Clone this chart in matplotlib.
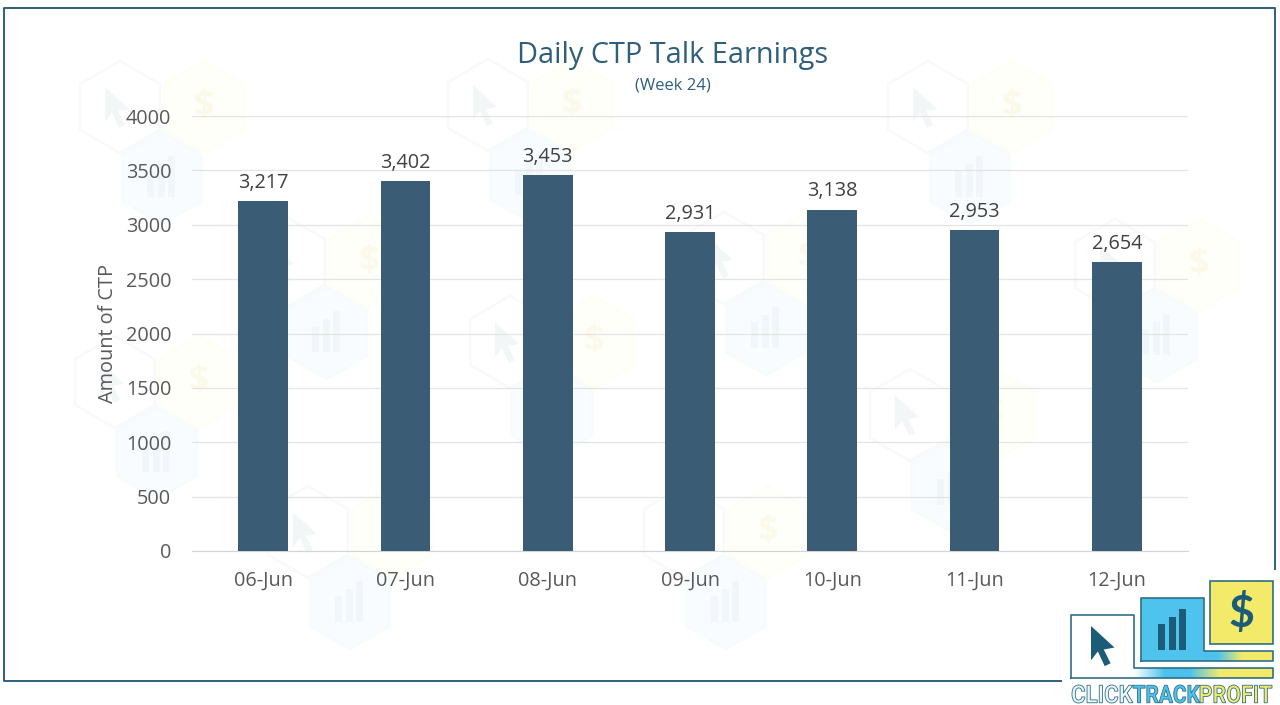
import numpy as np
import matplotlib
matplotlib.use("Agg")
import matplotlib.pyplot as plt
from matplotlib.font_manager import FontProperties
from matplotlib.patches import PathPatch, Polygon, Rectangle, RegularPolygon
from matplotlib.textpath import TextPath
from matplotlib.transforms import Affine2D

plt.rcParams["font.family"] = ["Open Sans", "DejaVu Sans"]

days = ["06-Jun", "07-Jun", "08-Jun", "09-Jun", "10-Jun", "11-Jun", "12-Jun"]
ctp = [3217, 3402, 3453, 2931, 3138, 2953, 2654]
y_ticks = [0, 500, 1000, 1500, 2000, 2500, 3000, 3500, 4000]

# top-left hexagon of each faded watermark group, in pixels
watermarks = [(120, 107), (488, 105), (928, 107), (285, 262), (724, 258), (1115, 265),
              (510, 342), (115, 382), (910, 415), (308, 532), (684, 532)]

W, H = 1280, 705
NAVY = "#3a5c74"
TEAL = "#1d5c78"
BLUE = "#4dc3ee"
YELLOW = "#f4ea6a"
EDGE = "#2f6f85"

fig = plt.figure(figsize=(W / 100, H / 100), dpi=100, facecolor="white")

# pixel space layer for the frame, watermark and logo
bg = fig.add_axes([0, 0, 1, 1], zorder=0)
bg.set_xlim(0, W)
bg.set_ylim(H, 0)
bg.axis("off")


def hexagon(ax, x, y, face, edge):
    ax.add_patch(RegularPolygon((x, y), 6, radius=46, facecolor=face, edgecolor=edge, lw=1.8))


def cursor(ax, x, y, s, color, z=2):
    # x, y is the tip of the arrow
    pts = np.array([[0, 0], [0, 35], [7, 26], [14, 41], [20, 38], [13, 24], [24, 22]]) * s
    ax.add_patch(Polygon(pts + [x, y], closed=True, facecolor=color, edgecolor="none", zorder=z))


def small_bars(ax, x, base, s, color, z=2):
    for dx, h in [(0, 26), (11, 33), (21, 41)]:
        ax.add_patch(Rectangle((x + dx * s, base - h * s), 7 * s, h * s, facecolor=color,
                               edgecolor="none", zorder=z))


for x, y in watermarks:
    hexagon(bg, x, y, "#ffffff", "#f8f9f9")
    hexagon(bg, x + 84, y, "#fffffa", "#fefef5")
    hexagon(bg, x + 42, y + 71, "#f9fcfe", "#f6fbfd")
    cursor(bg, x - 15, y - 20, 1.0, "#f3f6f7")
    bg.text(x + 84, y, "$", color="#fbf9ea", fontsize=26, fontweight="bold", ha="center", va="center")
    small_bars(bg, x + 27, y + 90, 1.0, "#f0f6f9")

# frame around the chart
bg.plot([1062, 4, 4, 1275, 1275], [681, 681, 8, 8, 570], color="#2f5f7a", lw=1.4, solid_capstyle="butt")

# chart
ax = fig.add_axes([192 / W, 1 - 551 / H, 996 / W, 435 / H], zorder=1)
ax.patch.set_alpha(0)
x = np.arange(len(days))
bars = ax.bar(x, ctp, width=0.35, color=NAVY, zorder=3)
ax.bar_label(bars, labels=[f"{v:,}" for v in ctp], padding=6, fontsize=14.3, color="#404040")
ax.set_xlim(-0.5, len(days) - 0.5)
ax.set_ylim(0, 4000)
ax.set_xticks(x, days)
ax.set_yticks(y_ticks)
ax.tick_params(axis="both", length=0, labelsize=14.3, labelcolor="#595959")
ax.tick_params(axis="x", pad=14)
ax.tick_params(axis="y", pad=15)
ax.grid(axis="y", color="#e4e4e4", lw=0.9, zorder=0)
for name in ["top", "right", "left"]:
    ax.spines[name].set_visible(False)
ax.spines["bottom"].set_color("#d4d4d4")
ax.set_ylabel("Amount of CTP", fontsize=14.3, color="#595959")
ax.yaxis.set_label_coords((118 - 192) / 996, 0.5)

fig.text(673 / W, 1 - 55 / H, "Daily CTP Talk Earnings", fontsize=20.8, color="#2f5f7a", ha="center", va="center")
fig.text(673 / W, 1 - 86 / H, "(Week 24)", fontsize=12, color="#2f5f7a", ha="center", va="center")

# logo
top = fig.add_axes([0, 0, 1, 1], zorder=2)
top.set_xlim(0, W)
top.set_ylim(H, 0)
top.axis("off")
top.patch.set_alpha(0)

ramp = np.array([[1, 1, 1], [0.30, 0.76, 0.93], [0.30, 0.76, 0.93], [0.957, 0.918, 0.416], [0.957, 0.918, 0.416]])
stops = [0, 0.22, 0.4, 0.62, 1]
xs = np.linspace(0, 1, 200)
grad = np.stack([np.interp(xs, stops, ramp[:, i]) for i in range(3)], axis=1)[None, :, :]
top.imshow(grad, extent=[1134, 1273, 678, 668], aspect="auto", zorder=2)
grad2 = np.stack([np.interp(xs, [0, 0.2, 0.55, 1], [0.30, 0.30, 0.957, 0.957]),
                  np.interp(xs, [0, 0.2, 0.55, 1], [0.76, 0.76, 0.918, 0.918]),
                  np.interp(xs, [0, 0.2, 0.55, 1], [0.93, 0.93, 0.416, 0.416])], axis=1)[None, :, :]
top.imshow(grad2, extent=[1204, 1273, 661, 651], aspect="auto", zorder=2)
top.set_xlim(0, W)
top.set_ylim(H, 0)

top.plot([1071, 1071, 1134, 1134, 1273, 1273, 1071], [678, 615, 615, 668, 668, 678, 678], color=EDGE, lw=1.2, zorder=4)
top.add_patch(Rectangle((1141, 598), 63, 63, facecolor=BLUE, edgecolor="none", zorder=3))
top.plot([1141, 1141, 1204, 1204, 1273, 1273, 1141], [661, 598, 598, 651, 651, 661, 661], color=EDGE, lw=1.2, zorder=4)
top.add_patch(Rectangle((1210, 581), 63, 63, facecolor=YELLOW, edgecolor=EDGE, lw=1.2, zorder=4))
cursor(top, 1091, 626, 0.98, TEAL, z=5)
small_bars(top, 1158, 650, 1.0, TEAL, z=5)
top.text(1241.5, 613, "$", color=TEAL, fontsize=32, fontweight="bold", family="Lato", ha="center", va="center", zorder=5)

# squeezed outline lettering under the logo
word_font = FontProperties(family="Roboto", weight="bold")
word_x = 1072
for word, width, face in [("CLICK", 61, "#eaf6fb"), ("TRACK", 67, "#4dc3ee"), ("PROFIT", 72, "#f4ea6a")]:
    tp = TextPath((0, 0), word, size=10, prop=word_font)
    box = tp.get_extents()
    tr = Affine2D().translate(-box.x0, -box.y0).scale(width / box.width, -18 / box.height).translate(word_x, 703)
    top.add_patch(PathPatch(tp, transform=tr + top.transData, facecolor=face, edgecolor=EDGE, lw=0.6, zorder=5))
    word_x += width

fig.savefig("out.png", dpi=100)
